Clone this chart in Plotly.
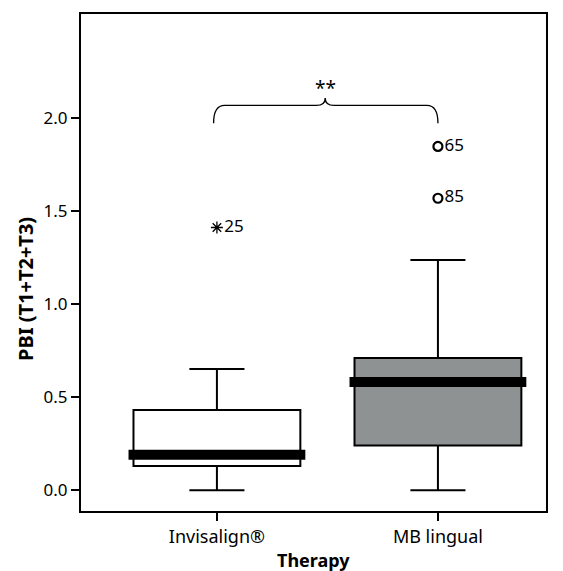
import plotly.graph_objects as go

categories = ["Invisalign®", "MB lingual"]
q1 = [0.13, 0.24]
median = [0.19, 0.58]
q3 = [0.43, 0.71]
lower_whisker = [0.0, 0.0]
upper_whisker = [0.65, 1.235]
fills = ["#ffffff", "#8f9293"]

outlier_x = [0, 1, 1]
outlier_y = [1.41, 1.845, 1.567]
outlier_labels = ["25", "65", "85"]
outlier_kind = ["extreme", "mild", "mild"]

sig_label = "**"
sig_level = 1.97

y_ticks = [0.0, 0.5, 1.0, 1.5, 2.0]

FONT = "Noto Sans"
BOX_W = 0.755
MED_W = 0.80

fig = go.Figure()
for i, cat in enumerate(categories):
    fig.add_trace(go.Box(
        x=[i], q1=[q1[i]], median=[median[i]], q3=[q3[i]],
        lowerfence=[lower_whisker[i]], upperfence=[upper_whisker[i]],
        fillcolor=fills[i], line=dict(color="black", width=2),
        width=BOX_W, whiskerwidth=0.33, boxpoints=False, showlegend=False,
        hoverinfo="skip",
    ))
    fig.add_trace(go.Scatter(
        x=[i - MED_W / 2, i + MED_W / 2], y=[median[i], median[i]],
        mode="lines", line=dict(color="black", width=10), showlegend=False,
        hoverinfo="skip",
    ))

for x, y, lab, kind in zip(outlier_x, outlier_y, outlier_labels, outlier_kind):
    sym = "asterisk-open" if kind == "extreme" else "circle-open"
    size = 10 if kind == "extreme" else 9
    lw = 1.3 if kind == "extreme" else 2.2
    fig.add_trace(go.Scatter(
        x=[x], y=[y], mode="markers+text", text=[lab], textposition="middle right",
        textfont=dict(family=FONT, size=17, color="black"),
        marker=dict(symbol=sym, size=size, color="black", line=dict(color="black", width=lw)),
        showlegend=False, hoverinfo="skip",
    ))

# significance brace between the two categories
x0, x1 = -0.015, 1.0
xm = 0.49
y_end = sig_level
y_flat = sig_level + 0.095
y_tip = sig_level + 0.135
dxe, dxt = 0.05, 0.04
path = (f"M {x0},{y_end} Q {x0},{y_flat} {x0+dxe},{y_flat} "
        f"L {xm-dxt},{y_flat} Q {xm},{y_flat} {xm},{y_tip} "
        f"Q {xm},{y_flat} {xm+dxt},{y_flat} "
        f"L {x1-dxe},{y_flat} Q {x1},{y_flat} {x1},{y_end}")
fig.add_shape(type="path", path=path, xref="x", yref="y",
              line=dict(color="black", width=1.3))
fig.add_annotation(x=xm, y=y_tip, text=sig_label, showarrow=False, yanchor="bottom",
                   yshift=-5, font=dict(family=FONT, size=19, color="black"))

fig.add_annotation(x=0.5, xref="paper", y=-0.098, yref="paper", text="<b>Therapy</b>",
                   showarrow=False, yanchor="middle",
                   font=dict(family=FONT, size=18, color="black"))
fig.add_annotation(x=-0.118, xref="paper", y=0.447, yref="paper", text="<b>PBI (T1+T2+T3)</b>",
                   showarrow=False, textangle=-90, xanchor="center",
                   font=dict(family=FONT, size=20, color="black"))

fig.update_layout(
    width=563, height=571,
    margin=dict(l=81, r=17, t=12, b=60),
    plot_bgcolor="white", paper_bgcolor="white",
    font=dict(family=FONT, size=17, color="black"),
    xaxis=dict(range=[-0.615, 1.489], tickmode="array", tickvals=[0, 1], ticktext=categories,
               tickfont=dict(size=18),
               showgrid=False, zeroline=False, showline=True, linecolor="black", linewidth=2,
               mirror=True, ticks="outside", ticklen=8, tickwidth=2, tickcolor="black"),
    yaxis=dict(range=[-0.112, 2.556], tickmode="array", tickvals=y_ticks,
               ticktext=[f"{v:.1f}" for v in y_ticks], tickfont=dict(size=17),
               showgrid=False, zeroline=False, showline=True, linecolor="black", linewidth=2,
               mirror=True, ticks="outside", ticklen=8, tickwidth=2, tickcolor="black"),
)

fig.write_html("out.html")
